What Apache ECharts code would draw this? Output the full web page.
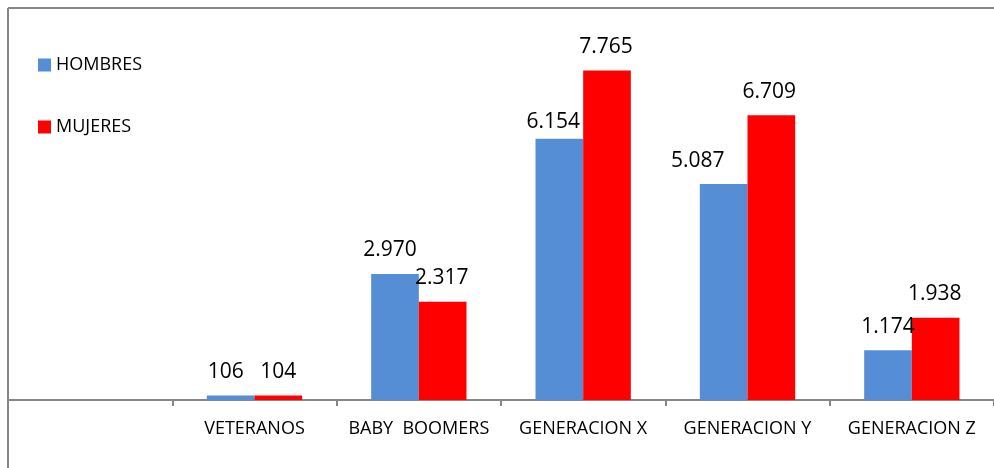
<!DOCTYPE html>
<html>
<head>
<meta charset="utf-8">
<script src="https://cdn.jsdelivr.net/npm/echarts@6/dist/echarts.min.js"></script>
<style>
html,body{margin:0;padding:0;background:#fff;}
#chart{width:994px;height:468px;}
</style>
</head>
<body>
<div id="chart"></div>
<script>
const categories = ['', 'VETERANOS', 'BABY  BOOMERS', 'GENERACION X', 'GENERACION Y', 'GENERACION Z'];
const hombres = [null, 106, 2970, 6154, 5087, 1174];
const mujeres = [null, 104, 2317, 7765, 6709, 1938];
const seriesNames = ['HOMBRES', 'MUJERES'];

// label nudges (style only, not data)
const hombresLabelNudge = [null, [-5, 0], [-5, 0], [-6, 7], [-26, 0], [0, 0]];
const mujeresLabelNudge = [null, [0, 0], [-1, 0], [-1, 0], [-2, 0], [-1, 0]];

function fmt(v) {
  return String(v).replace(/\B(?=(\d{3})+(?!\d))/g, '.');
}

function buildData(values, nudges) {
  return values.map((v, i) => {
    if (v === null) return null;
    return { value: v, label: { offset: nudges[i] || [0, 0] } };
  });
}

const labelStyle = {
  show: true,
  position: 'top',
  distance: 13,
  color: '#000',
  fontFamily: 'Open Sans',
  fontSize: 21,
  lineHeight: 21,
  formatter: p => fmt(p.value)
};

const chart = echarts.init(document.getElementById('chart'), null, { renderer: 'canvas' });
chart.setOption({
  animation: false,
  backgroundColor: '#fff',
  legend: {
    orient: 'vertical',
    left: 38,
    top: 55,
    padding: 0,
    itemWidth: 13,
    itemHeight: 13,
    itemGap: 42,
    icon: 'rect',
    textStyle: { fontFamily: 'Open Sans', fontSize: 18, lineHeight: 20, color: '#000' },
    data: seriesNames
  },
  grid: { left: 8, top: 18, width: 987, bottom: 68, containLabel: false },
  xAxis: {
    type: 'category',
    data: categories,
    axisLine: { lineStyle: { color: '#868686', width: 2 } },
    axisTick: { show: true, length: 6, lineStyle: { color: '#868686', width: 2 } },
    axisLabel: { color: '#000', fontFamily: 'Open Sans', fontSize: 18, margin: 20, interval: 0 }
  },
  yAxis: {
    type: 'value',
    min: 0,
    max: 9000,
    interval: 1000,
    show: false
  },
  series: [
    {
      name: seriesNames[0],
      type: 'bar',
      data: buildData(hombres, hombresLabelNudge),
      itemStyle: { color: '#558ED5' },
      barGap: '0%',
      barCategoryGap: '42%',
      label: labelStyle
    },
    {
      name: seriesNames[1],
      type: 'bar',
      data: buildData(mujeres, mujeresLabelNudge),
      itemStyle: { color: '#FF0000' },
      barGap: '0%',
      barCategoryGap: '42%',
      label: labelStyle
    }
  ],
  graphic: [
    { type: 'line', shape: { x1: 8, y1: 8, x2: 994, y2: 8 }, style: { stroke: '#868686', lineWidth: 2 } },
    { type: 'line', shape: { x1: 8, y1: 8, x2: 8, y2: 468 }, style: { stroke: '#868686', lineWidth: 2 } }
  ]
});
</script>
</body>
</html>
